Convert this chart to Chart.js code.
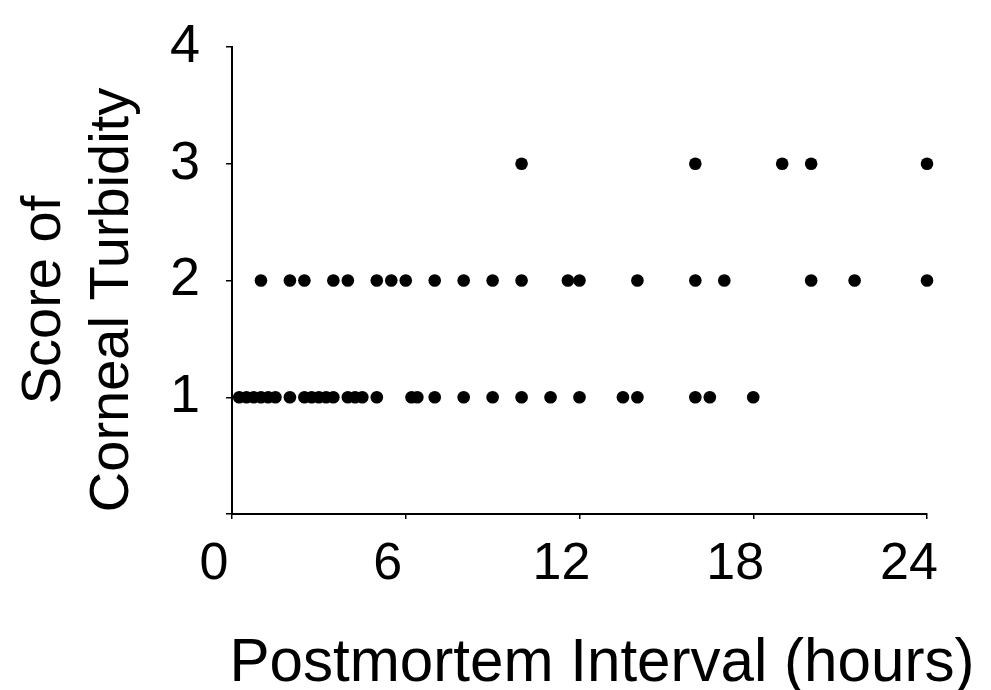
<!DOCTYPE html>
<html>
<head>
  <meta charset="UTF-8">
  <title>Corneal Turbidity</title>
  <style>
    body {
      margin: 0;
      background-color: #fff;
      overflow: hidden;
    }

    .grafica-container {
      width: 991px;
      height: 690px;
      position: relative;
    }
  </style>
</head>
<body>
  <div class="grafica-container">
    <canvas id="grafica"></canvas>
  </div>

  <script src="https://cdn.jsdelivr.net/npm/chart.js"></script>
  <script>
    // postmortem hours for each score of corneal turbidity
    var score1Hours = [0.25, 0.5, 0.75, 1, 1.25, 1.5, 2, 2.5, 2.75, 3, 3.25, 3.5, 4, 4.25, 4.5, 5,
                       6.2, 6.4, 7, 8, 9, 10, 11, 12, 13.5, 14, 16, 16.5, 18];
    var score2Hours = [1, 2, 2.5, 3.5, 4, 5, 5.5, 6, 7, 8, 9, 10, 11.6, 12, 14, 16, 17, 20, 21.5, 24];
    var score3Hours = [10, 16, 19, 20, 24];
    var scores = [1, 2, 3];
    var xTicks = [0, 6, 12, 18, 24];
    var yTicks = [1, 2, 3, 4];

    var tituloX = 'Postmortem Interval (hours)';
    var tituloY = ['Score of', 'Corneal Turbidity'];

    var fuente = '"Liberation Sans", Arial, sans-serif';

    var datasets = [score1Hours, score2Hours, score3Hours].map(function (horas, i) {
      return {
        label: 'Score ' + scores[i],
        data: horas.map(function (h) { return { x: h, y: scores[i] }; }),
        backgroundColor: '#000',
        borderWidth: 0,
        pointRadius: 6.3,
        pointHoverRadius: 6.3,
        clip: false
      };
    });

    // los titulos de los ejes van un poco corridos respecto al area, como en la figura
    var titulosEjes = {
      id: 'titulosEjes',
      afterDraw: function (chart) {
        var c = chart.ctx;
        c.save();
        c.fillStyle = '#000';
        c.textAlign = 'center';

        c.font = '62px ' + fuente;
        c.textBaseline = 'alphabetic';
        c.fillText(tituloX, 602, 681, 745);

        c.font = '56px ' + fuente;
        c.textBaseline = 'middle';
        c.translate(0, 300);
        c.rotate(-Math.PI / 2);
        c.fillText(tituloY[0], 0, 45);
        c.fillText(tituloY[1], 0, 113);
        c.restore();
      }
    };

    var ctx = document.getElementById('grafica').getContext('2d');

    var myChart = new Chart(ctx, {
      type: 'scatter',
      data: { datasets: datasets },
      plugins: [titulosEjes],
      options: {
        responsive: true,
        maintainAspectRatio: false,
        animation: false,
        layout: {
          padding: { left: 0, right: 64, top: 47, bottom: 0 }
        },
        plugins: {
          legend: { display: false },
          tooltip: { enabled: false }
        },
        scales: {
          x: {
            type: 'linear',
            min: 0,
            max: 24,
            afterFit: function (scale) {
              scale.height = 176;
              scale.paddingLeft = 0;
              scale.paddingRight = 0;
            },
            afterBuildTicks: function (scale) {
              scale.ticks = xTicks.map(function (v) { return { value: v }; });
            },
            border: { display: true, color: '#000', width: 2 },
            grid: {
              display: true,
              drawOnChartArea: false,
              drawTicks: true,
              tickLength: 5,
              color: '#000',
              lineWidth: 1.5
            },
            ticks: {
              color: '#000',
              font: { family: fuente, size: 52 },
              padding: 14,
              labelOffset: -18,
              maxRotation: 0
            }
          },
          y: {
            type: 'linear',
            min: 0,
            max: 4,
            afterFit: function (scale) {
              scale.width = 232;
              scale.paddingTop = 0;
              scale.paddingBottom = 0;
            },
            afterBuildTicks: function (scale) {
              scale.ticks = [0].concat(yTicks).map(function (v) { return { value: v }; });
            },
            border: { display: true, color: '#000', width: 2 },
            grid: {
              display: true,
              drawOnChartArea: false,
              drawTicks: true,
              tickLength: 6,
              color: '#000',
              lineWidth: 1.5
            },
            ticks: {
              color: '#000',
              font: { family: fuente, size: 54 },
              padding: 26,
              callback: function (v) { return v === 0 ? '' : v; }
            }
          }
        }
      }
    });
  </script>
</body>
</html>
